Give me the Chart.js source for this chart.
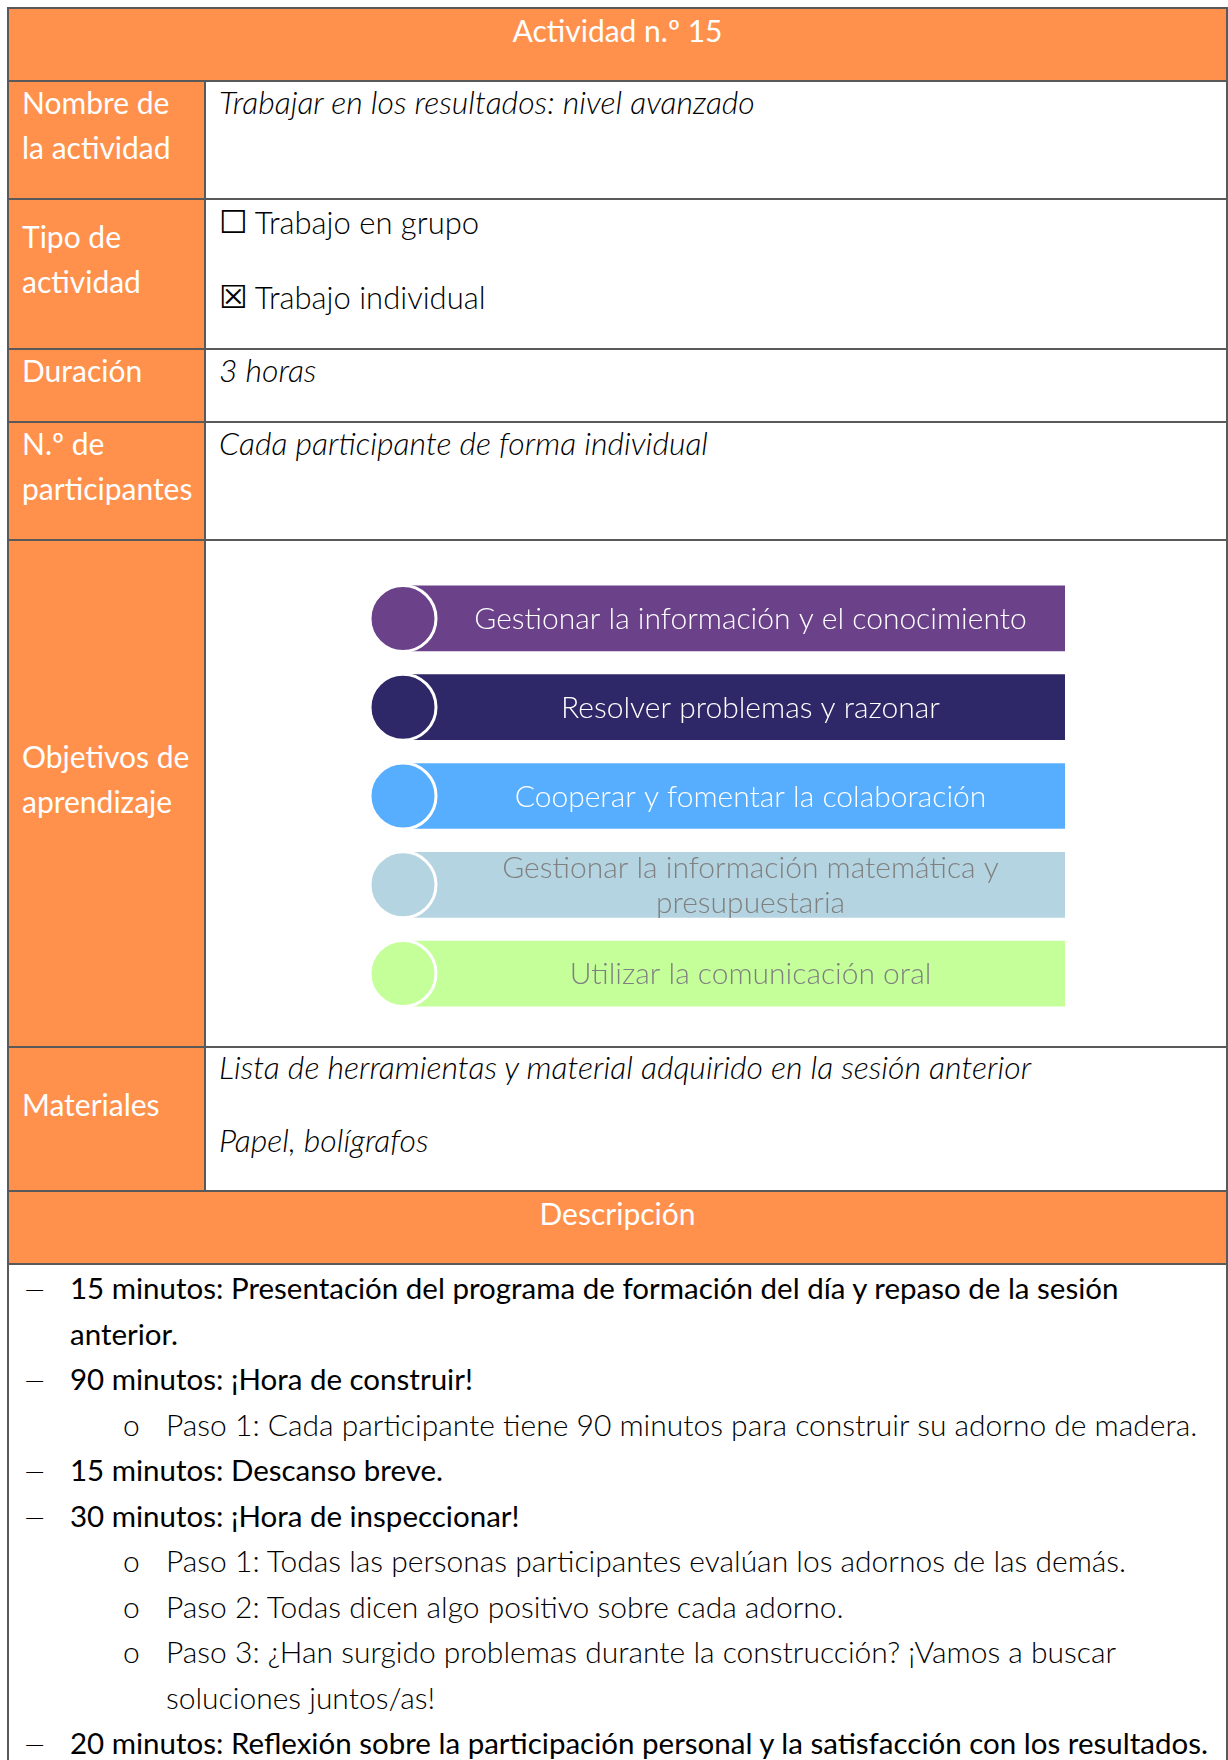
<!DOCTYPE html>
<html lang="es">
<head>
<meta charset="utf-8">
<title>Actividad n.º 15</title>
<script src="https://cdn.jsdelivr.net/npm/chart.js@4.4.1/dist/chart.umd.min.js"></script>
<style>
  html,body{margin:0;padding:0;background:#fff;}
  body{width:1228px;height:1760px;overflow:hidden;position:relative;font-family:'Lato','Open Sans',sans-serif;color:#111;}
  #sheet{position:absolute;left:7px;top:7px;width:1221px;border:2px solid #595959;border-bottom:none;box-sizing:border-box;}
  .row{display:flex;box-sizing:border-box;border-bottom:2px solid #595959;}
  .band{background:#ff914d;color:#fff;font-size:30px;line-height:40px;justify-content:center;align-items:flex-start;padding-top:1px;}
  .lab{width:197px;flex:none;background:#ff914d;color:#fff;border-right:2px solid #595959;box-sizing:border-box;
       font-size:30px;line-height:45px;padding:0 0 30px 13px;display:flex;flex-direction:column;justify-content:center;}
  .val{flex:1;font-size:32px;line-height:40px;padding-left:13px;font-style:italic;font-weight:300;color:#000;}
  .val p{margin:0;}
  .box{font-family:'DejaVu Sans';font-style:normal;font-weight:400;font-size:32px;margin-right:7px;position:relative;top:-1px;}
  .plain{font-style:normal;font-size:31px;}
  #desc{height:560px;border-bottom:none;display:block;padding-top:0;font-size:29.5px;line-height:45.5px;}
  .it{position:relative;padding-left:61px;white-space:nowrap;color:#000;}
  .it::before{content:'–';position:absolute;left:17px;font-weight:300;transform:scaleX(1.45);}
  .sub{position:relative;padding-left:157px;white-space:nowrap;font-weight:300;font-size:30px;color:#000;}
  .sub::before{content:'o';position:absolute;left:114px;}
  #objCanvas{position:absolute;left:366px;top:574px;}
</style>
</head>
<body>
<div id="sheet">
  <div class="row band" style="height:73px">Actividad n.º 15</div>
  <div class="row" style="height:118px">
    <div class="lab">Nombre de<br>la actividad</div>
    <div class="val"><p>Trabajar en los resultados: nivel avanzado</p></div>
  </div>
  <div class="row" style="height:150px">
    <div class="lab">Tipo de<br>actividad</div>
    <div class="val plain" style="padding-top:2px">
      <p><span class="box">☐</span>Trabajo en grupo</p>
      <p style="margin-top:34px"><span class="box">☒</span>Trabajo individual</p>
    </div>
  </div>
  <div class="row" style="height:73px">
    <div class="lab">Duración</div>
    <div class="val"><p>3 horas</p></div>
  </div>
  <div class="row" style="height:118px">
    <div class="lab">N.º de<br>participantes</div>
    <div class="val"><p>Cada participante de forma individual</p></div>
  </div>
  <div class="row" style="height:507px">
    <div class="lab">Objetivos de<br>aprendizaje</div>
    <div class="val"></div>
  </div>
  <div class="row" style="height:144px">
    <div class="lab">Materiales</div>
    <div class="val">
      <p style="margin-top:-1px">Lista de herramientas y material adquirido en la sesión anterior</p>
      <p style="margin-top:33px">Papel, bolígrafos</p>
    </div>
  </div>
  <div class="row band" style="height:73px">Descripción</div>
  <div class="row" id="desc">
    <div class="it">15 minutos: Presentación del programa de formación del día y repaso de la sesión<br>anterior.</div>
    <div class="it">90 minutos: ¡Hora de construir!</div>
    <div class="sub">Paso 1: Cada participante tiene 90 minutos para construir su adorno de madera.</div>
    <div class="it">15 minutos: Descanso breve.</div>
    <div class="it">30 minutos: ¡Hora de inspeccionar!</div>
    <div class="sub">Paso 1: Todas las personas participantes evalúan los adornos de las demás.</div>
    <div class="sub">Paso 2: Todas dicen algo positivo sobre cada adorno.</div>
    <div class="sub">Paso 3: ¿Han surgido problemas durante la construcción? ¡Vamos a buscar<br>soluciones juntos/as!</div>
    <div class="it">20 minutos: Reflexión sobre la participación personal y la satisfacción con los resultados.</div>
  </div>
</div>
<canvas id="objCanvas" width="702" height="444"></canvas>
<script>
// learning objectives, top to bottom
const objectives = [
  'Gestionar la información y el conocimiento',
  'Resolver problemas y razonar',
  'Cooperar y fomentar la colaboración',
  ['Gestionar la información matemática y', 'presupuestaria'],
  'Utilizar la comunicación oral'
];
const fills = ['#6b418a', '#2e2868', '#57aeff', '#b3d4e0', '#c4ff9a'];
const inks = ['#ffffff', '#ffffff', '#ffffff', '#808080', '#808080'];
const barStart = [0, 0, 0, 0, 0];
const barEnd = [1, 1, 1, 1, 1];
const dotAt = [0, 0, 0, 0, 0];

const RADIUS = 33;

// text inside each bar, centred between the circle edge and the bar end
const barText = {id:'barText', afterDatasetsDraw(ch){
  const {ctx} = ch;
  const bars = ch.getDatasetMeta(0).data;
  ctx.save();
  ctx.font = '300 30px Lato';
  ctx.textAlign = 'center'; ctx.textBaseline = 'middle';
  bars.forEach((b, i) => {
    const p = b.getProps(['x','y','base'], true);
    const cx = (p.base + RADIUS + p.x) / 2;
    const lines = [].concat(objectives[i]);
    const lh = 35;
    ctx.fillStyle = inks[i];
    lines.forEach((t, k) => ctx.fillText(t, cx, p.y + (k - (lines.length - 1) / 2) * lh + 1));
  });
  ctx.restore();
}};

new Chart(document.getElementById('objCanvas'), {
  data: {
    labels: objectives,
    datasets: [
      {type:'bar', indexAxis:'y', data: barStart.map((s, i) => [s, barEnd[i]]),
       backgroundColor: fills, borderWidth: 0, barThickness: 65, order: 2},
      {type:'line', indexAxis:'y', data: dotAt, showLine: false, clip: false,
       pointRadius: RADIUS, pointHoverRadius: RADIUS, pointBackgroundColor: fills,
       pointBorderColor: '#ffffff', pointBorderWidth: 3, order: 1}
    ]
  },
  options: {
    responsive: false, animation: false, devicePixelRatio: 1,
    layout: {autoPadding: false, padding: {left: 37, right: 3, top: 0, bottom: 0}},
    plugins: {legend: {display: false}, tooltip: {enabled: false}},
    events: [],
    scales: {
      x: {type: 'linear', min: 0, max: 1, display: false},
      y: {type: 'category', offset: true, display: false}
    }
  },
  plugins: [barText]
});
</script>
</body>
</html>
